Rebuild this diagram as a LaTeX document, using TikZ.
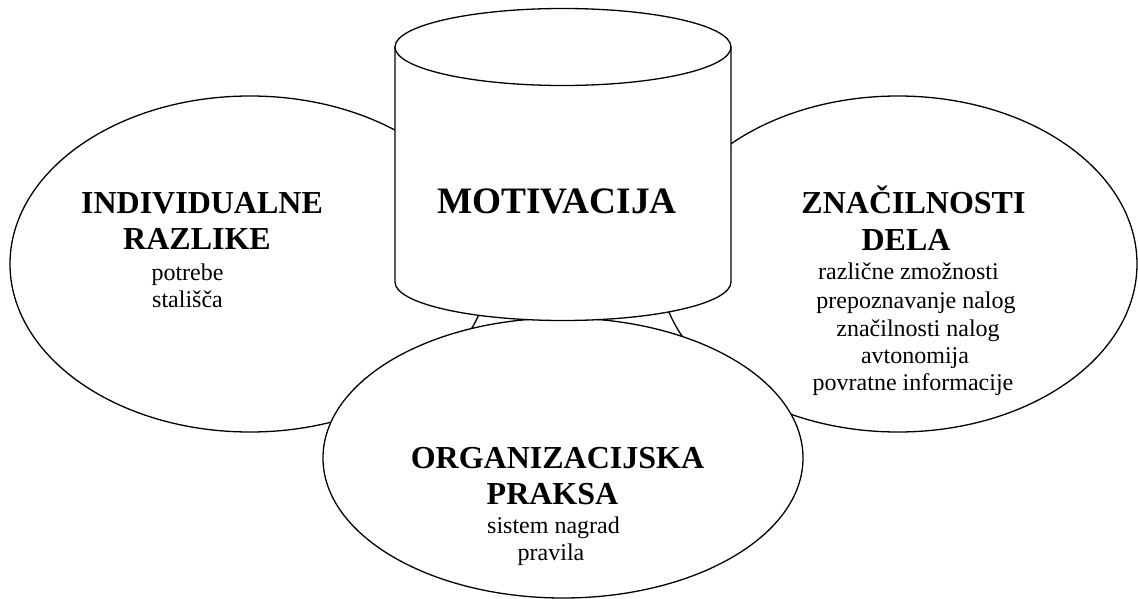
\documentclass[tikz,border=0pt]{standalone}
\usepackage{fontspec}
\setmainfont{Liberation Serif}
\usetikzlibrary{shapes.geometric}
\begin{document}
\begin{tikzpicture}[x=1pt,y=-1pt,
  blob/.style={ellipse,draw,fill=white,line width=1.3pt,inner sep=0pt,outer sep=0pt},
  cyl/.style={draw,fill=white,line width=1.3pt,line join=round},
  bighead/.style={font=\fontsize{37.3}{42}\selectfont\bfseries,anchor=base,inner sep=0pt},
  head/.style={font=\fontsize{32}{36}\selectfont\bfseries,anchor=base,inner sep=0pt},
  item/.style={font=\fontsize{24}{27}\selectfont,anchor=base,inner sep=0pt}]
\useasboundingbox (0,0) rectangle (1138,599);
% side ellipses
\node[blob,minimum width=480pt,minimum height=336pt] (left) at (250,264) {};
\node[blob,minimum width=478pt,minimum height=336pt] (right) at (898,264) {};
% bottom ellipse
\node[blob,minimum width=480pt,minimum height=280pt] (bottom) at (563,458) {};
% cylinder
\coordinate (cyltop) at (563,47);
\draw[cyl] (395,47) -- (395,282) arc[start angle=180,end angle=360,x radius=168pt,y radius=38.5pt] -- (731,47) -- cycle;
\draw[cyl] (cyltop) ellipse [x radius=168pt,y radius=38.5pt];
% texts
\node[bighead] (motiv) at (557,213) {MOTIVACIJA};
\node[head] (l1) at (202,213) {INDIVIDUALNE};
\node[head] (l2) at (197,249) {RAZLIKE};
\node[item] (l3) at (187.5,280) {potrebe};
\node[item] (l4) at (187.5,307) {stališča};
\node[head] (r1) at (913.5,213) {ZNAČILNOSTI};
\node[head] (r2) at (906,250) {DELA};
\node[item] (r3) at (908.5,279) {različne zmožnosti};
\node[item] (r4) at (916,308) {prepoznavanje nalog};
\node[item] (r5) at (918,336) {značilnosti nalog};
\node[item] (r6) at (915,363) {avtonomija};
\node[item] (r7) at (913,390) {povratne informacije};
\node[head] (b1) at (557.5,468) {ORGANIZACIJSKA};
\node[head] (b2) at (552.5,504) {PRAKSA};
\node[item] (b3) at (553.5,533) {sistem nagrad};
\node[item] (b4) at (551,560) {pravila};
\end{tikzpicture}
\end{document}
